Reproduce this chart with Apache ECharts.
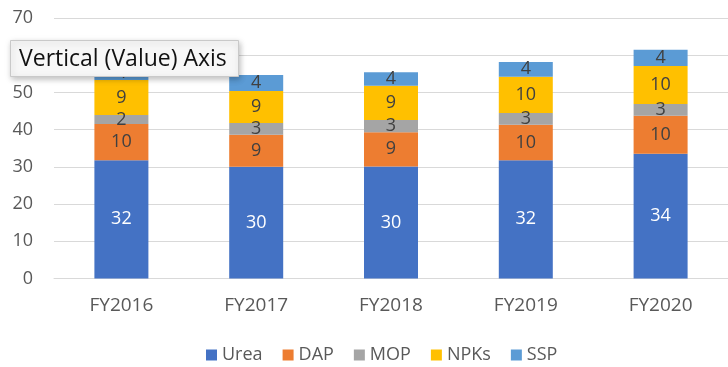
<!DOCTYPE html>
<html>
<head>
<meta charset="utf-8">
<script src="https://cdn.jsdelivr.net/npm/echarts@6/dist/echarts.min.js"></script>
<style>html,body{margin:0;padding:0;background:#fff}#c{width:728px;height:367px}</style>
</head>
<body>
<div id="c"></div>
<script>
const categories = ['FY2016', 'FY2017', 'FY2018', 'FY2019', 'FY2020'];
const seriesNames = ['Urea', 'DAP', 'MOP', 'NPKs', 'SSP'];
const urea = [31.8, 30.0, 30.1, 31.8, 33.5];
const dap  = [9.7, 8.6, 9.2, 9.5, 10.2];
const mop  = [2.45, 3.2, 3.3, 3.2, 3.2];
const npks = [9.4, 8.6, 9.2, 9.7, 10.2];
const ssp  = [4.0, 4.3, 3.6, 4.0, 4.4];
const yTicks = [0, 10, 20, 30, 40, 50, 60, 70];

const colors = ['#4472C4', '#ED7D31', '#A5A5A5', '#FFC000', '#5B9BD5'];
const values = [urea, dap, mop, npks, ssp];
const FONT = 'Open Sans';

const chart = echarts.init(document.getElementById('c'));
chart.setOption({
  animation: false,
  textStyle: { fontFamily: FONT },
  grid: { left: 54, right: 0, top: 18, bottom: 88.5, containLabel: false },
  legend: {
    data: seriesNames,
    left: 201,
    top: 341,
    icon: 'rect',
    itemWidth: 11,
    itemHeight: 11,
    itemGap: 20,
    textStyle: { fontFamily: FONT, fontSize: 18, color: '#595959' }
  },
  xAxis: {
    type: 'category',
    data: categories,
    axisTick: { show: false },
    axisLine: { lineStyle: { color: '#d9d9d9', width: 1 } },
    axisLabel: { fontFamily: FONT, fontSize: 19, color: '#595959', margin: 18 }
  },
  yAxis: {
    type: 'value',
    min: yTicks[0],
    max: yTicks[yTicks.length - 1],
    interval: 10,
    axisLine: { show: false },
    axisTick: { show: false },
    splitLine: { lineStyle: { color: '#d9d9d9', width: 1 } },
    axisLabel: { fontFamily: FONT, fontSize: 18, color: '#595959', margin: 21 }
  },
  series: seriesNames.map((n, i) => ({
    name: n,
    type: 'bar',
    stack: 'total',
    barWidth: 54,
    data: values[i],
    itemStyle: { color: colors[i] },
    label: {
      show: true,
      position: 'inside',
      fontFamily: FONT,
      fontSize: 18,
      color: i === 0 ? '#ffffff' : '#404040',
      formatter: p => Math.round(p.value)
    }
  })),
  graphic: [
    {
      type: 'rect',
      z: 100,
      shape: { x: 10.5, y: 40.5, width: 228, height: 36 },
      style: { fill: '#f7f7f7', stroke: '#c9c9c9', lineWidth: 1,
               shadowBlur: 6, shadowColor: 'rgba(0,0,0,0.25)', shadowOffsetX: 1, shadowOffsetY: 2 }
    },
    {
      type: 'text',
      z: 101,
      x: 19, y: 59,
      style: { text: 'Vertical (Value) Axis', font: '23px "Open Sans"', fill: '#111', textVerticalAlign: 'middle' }
    }
  ]
});
</script>
</body>
</html>
